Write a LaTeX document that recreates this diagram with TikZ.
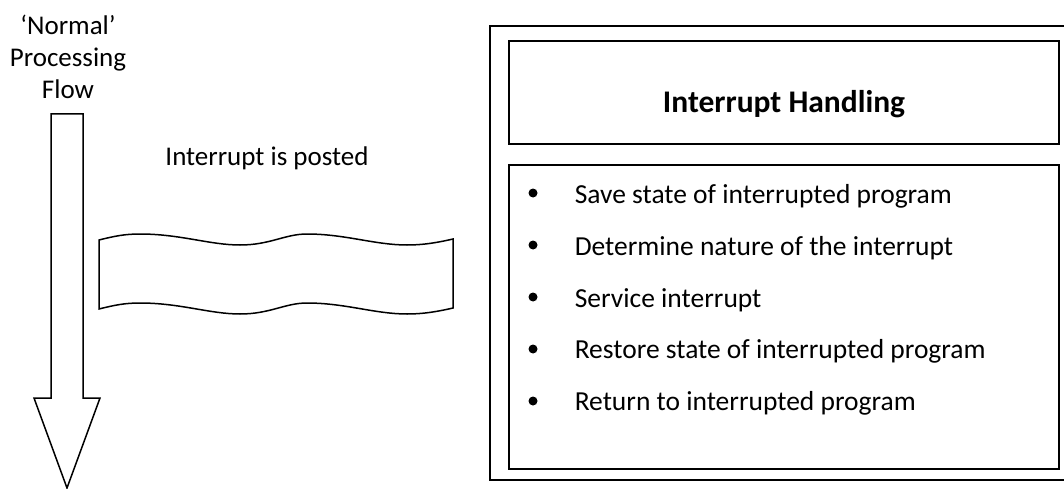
\documentclass[tikz,border=0pt]{standalone}
\usepackage{fontspec}
\setmainfont{Carlito}
\usetikzlibrary{positioning}
\begin{document}
\begin{tikzpicture}[
		x=1pt, y=-1pt,
		line width=1.5pt,
		every node/.style={
				font=\fontsize{27}{32}\selectfont,
				inner sep=0pt
			},
		panel/.style={draw, line width=1.5pt, minimum width=550pt},
		dot/.style={circle, fill=black, minimum size=9pt},
		item/.style={anchor=base west, font=\fontsize{27.5}{33}\selectfont}
	]
	\useasboundingbox (0,0) rectangle (1064,489);
	% normal processing flow
	\node[align=center, anchor=north] (flowlabel) at (68,14) {‘Normal’\\Processing\\Flow};
	\draw[line join=miter] (51,114) -- (83,114) -- (83,398) -- (100,398) -- (67,488)
		-- (34,398) -- (51,398) -- cycle;
	% interrupt banner
	\node (posted) at (267,158) {Interrupt is posted};
	\draw (99,240) .. controls (115,236) and (125,234) .. (140,234)
		.. controls (180,234) and (210,245) .. (240,245)
		.. controls (270,245) and (285,234) .. (307,234)
		.. controls (345,234) and (375,245) .. (407,245)
		.. controls (425,245) and (440,242) .. (453,239)
		-- (453,308)
		.. controls (440,311) and (425,314) .. (407,314)
		.. controls (375,314) and (345,303) .. (307,303)
		.. controls (285,303) and (270,314) .. (240,314)
		.. controls (210,314) and (180,303) .. (140,303)
		.. controls (125,303) and (115,305) .. (99,309) -- cycle;
	% interrupt handling
	\node[draw, minimum width=576pt, minimum height=454pt] (handler) at (778,253) {};
	\node[panel, minimum height=103pt] (titlebox) at (784,92.5) {};
	\node[anchor=base, font=\fontsize{31.5}{36}\selectfont\bfseries] (title) at (784,113) {Interrupt Handling};
	\node[panel, minimum height=304pt] (steps) at (784,317) {};
	\node[dot] (d1) at (533,193) {};
	\node[dot] (d2) at (533,245) {};
	\node[dot] (d3) at (533,297) {};
	\node[dot] (d4) at (533,349) {};
	\node[dot] (d5) at (533,401) {};
	\node[item] (s1) at (574,203) {Save state of interrupted program};
	\node[item] (s2) at (574,255) {Determine nature of the interrupt};
	\node[item] (s3) at (574,307) {Service interrupt};
	\node[item] (s4) at (574,358) {Restore state of interrupted program};
	\node[item] (s5) at (574,410) {Return to interrupted program};
\end{tikzpicture}
\end{document}
